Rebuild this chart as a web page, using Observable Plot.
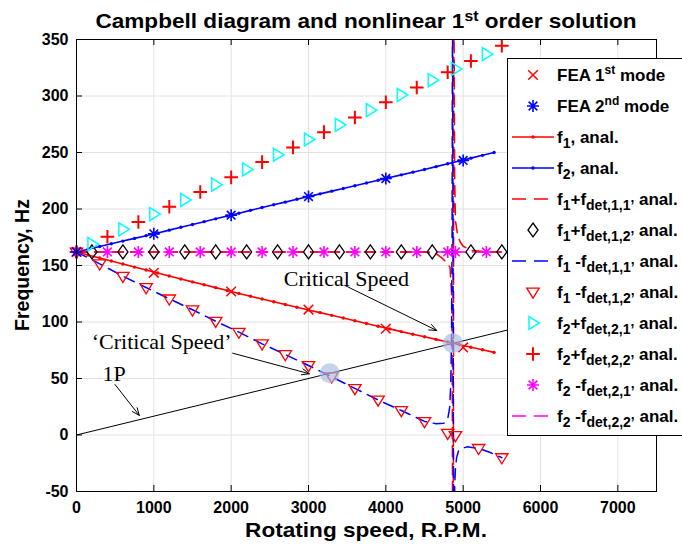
<!DOCTYPE html>
<html><head><meta charset="utf-8">
<script src="https://cdn.jsdelivr.net/npm/d3@7"></script>
<script src="https://cdn.jsdelivr.net/npm/@observablehq/plot@0.6"></script>
<style>
html,body{margin:0;padding:0;background:#fff;}
#wrap{position:relative;width:682px;height:544px;overflow:hidden;background:#fff;}
#wrap svg{position:absolute;left:0;top:0;}
</style></head><body><div id="wrap"></div>
<script>
// ---------- data ----------
const xTicks = [0,1000,2000,3000,4000,5000,6000,7000];
const yTicks = [-50,0,50,100,150,200,250,300,350];

const feaRpm = [0,1000,2000,3000,4000,5000];
const fea1 = [162,143.5,127,111,94,77.5];
const fea2 = [162,178,194.5,211,227,243];

const anaRpm = [0,150,300,450,600,750,900,1050,1200,1350,1500,1650,1800,1950,2100,2250,2400,2550,2700,2850,3000,3150,3300,3450,3600,3750,3900,4050,4200,4350,4500,4650,4800,4950,5100,5250,5400];
const f1Ana = [162,159.3,156.6,154,151.3,148.6,146,143.3,140.7,138.1,135.5,132.9,130.4,127.8,125.3,122.8,120.3,117.9,115.5,113.1,110.7,108.3,105.9,103.5,101.1,98.7,96.3,93.9,91.5,89.2,86.9,84.6,82.3,80,77.7,75.4,73.1];
const f2Ana = [162,164.4,166.8,169.2,171.6,174,176.4,178.8,181.3,183.8,186.3,188.8,191.3,193.8,196.3,198.8,201.3,203.7,206.1,208.6,211,213.4,215.8,218.2,220.6,223,225.4,227.8,230.2,232.6,235,237.5,240,242.5,245,247.5,250];

// f1 + f_det,1,1 (red dashed)
const r11Rpm = [0,1500,3000,4500,4650,4720,4780,4830,4850,4858,4864,4868,4880,4890,4900,4925,4960,5000,5100,5300,5500];
const r11F = [162,162,162,162,160.5,157,153,148.5,125,70,-100,-400,400,230,190,178,171,167,163.5,162,162];
// f1 + f_det,1,2 (diamonds)
const d12Rpm = [200,600,1000,1400,1800,2200,2600,3000,3400,3800,4200,4600,5100,5500];
const d12F = [162,162,162,162,162,162,162,162,162,162,162,162,162,162];
// f1 - f_det,1,1 (blue dashed)
const b11Rpm = [0,300,600,900,1200,1500,1800,2100,2400,2700,3000,3300,3600,3900,4200,4500,4650,4750,4800,4825,4840,4850,4857,4862,4885,4890,4900,4915,4940,4975,5050,5200,5350,5500];
const b11F = [162,151.5,140.5,130.5,120.5,110.8,100.7,91,80.7,71.2,61.5,51.5,41.2,31,21.7,12,10,10.5,14,24,45,90,180,400,-400,-45,-30,-20,-14,-12,-10.5,-11.8,-15.5,-20];
// f1 - f_det,1,2 (down triangles)
const t12Rpm = [0,300,600,900,1200,1500,1800,2100,2400,2700,3000,3300,3600,3900,4200,4500,4800,4900,5200,5500];
const t12F = [162,151.5,140.5,130.5,120.5,110.8,100.7,91,80.7,71.2,61.5,51.5,41.2,31,21.7,12,1.6,-0.4,-11.8,-20];
// f2 + f_det,2,1 (cyan right triangles)
const c21Rpm = [200,600,1000,1400,1800,2200,2600,3000,3400,3800,4200,4600,4900,5300];
const c21F = [169,182,195.5,208,221.5,235,248,261.5,274.5,287.5,301,314,324,337];
// f2 + f_det,2,2 (red plus)
const p22Rpm = [0,400,800,1200,1600,2000,2400,2800,3200,3600,4000,4400,4800,5100,5500];
const p22F = [162,175.5,188.5,202,215,228,241.5,254.5,268,281,294.5,307.5,321,331,344.5];
// f2 - f_det,2,1 (magenta stars)
const m21Rpm = [0,400,800,1200,1600,2000,2400,2800,3200,3600,4000,4400,4800,4900,5300];
const m21F = [162,162,162,162,162,162,162,162,162,162,162,162,162,162,162];
// f2 - f_det,2,2 (magenta dashed)
const m22Rpm = [0,5500];
const m22F = [162,162];
// 1P excitation line
const onePRpm = [0,7500];
const onePF = [0,125];
// critical speed markers
const critRpm = [3275,4866];
const critF = [54.6,81.3];
// annotations
const noteText = ["Critical Speed","\u2018Critical Speed\u2019","1P"];
const noteRpm = [3491,1102,486];
const noteF = [138.5,81.9,53.8];
const arrowFromRpm = [3472,2020,498];
const arrowFromF = [132.3,72.4,44.7];
const arrowToRpm = [4658,3010,812];
const arrowToF = [92.5,54.2,17.3];

const titleText = ["Campbell diagram and nonlinear 1","st"," order solution"];
const xLabel = "Rotating speed, R.P.M.";
const yLabel = "Frequency, Hz";
const legendLabels = [
  [["FEA 1",0],["st",2],[" mode",0]],
  [["FEA 2",0],["nd",2],[" mode",0]],
  [["f",0],["1",1],[", anal.",0]],
  [["f",0],["2",1],[", anal.",0]],
  [["f",0],["1",1],["+f",0],["det,1,1\u2019",1],[" anal.",0]],
  [["f",0],["1",1],["+f",0],["det,1,2\u2019",1],[" anal.",0]],
  [["f",0],["1",1],[" -f",0],["det,1,1\u2019",1],[" anal.",0]],
  [["f",0],["1",1],[" -f",0],["det,1,2\u2019",1],[" anal.",0]],
  [["f",0],["2",1],["+f",0],["det,2,1\u2019",1],[" anal.",0]],
  [["f",0],["2",1],["+f",0],["det,2,2\u2019",1],[" anal.",0]],
  [["f",0],["2",1],[" -f",0],["det,2,1\u2019",1],[" anal.",0]],
  [["f",0],["2",1],[" -f",0],["det,2,2\u2019",1],[" anal.",0]]
];

// ---------- helpers ----------
const zip = (xs, ys) => xs.map((x, i) => ({x, y: ys[i]}));
const R = s => Math.sqrt(s / Math.PI);
const sym = {
  times: {draw(c, s){const r=R(s); c.moveTo(-r,-r); c.lineTo(r,r); c.moveTo(-r,r); c.lineTo(r,-r);}},
  plus: {draw(c, s){const r=R(s); c.moveTo(-r,0); c.lineTo(r,0); c.moveTo(0,-r); c.lineTo(0,r);}},
  star: {draw(c, s){const r=R(s), q=r*0.72; c.moveTo(-r,0); c.lineTo(r,0); c.moveTo(0,-r); c.lineTo(0,r);
    c.moveTo(-q,-q); c.lineTo(q,q); c.moveTo(-q,q); c.lineTo(q,-q);}},
  triDown: {draw(c, s){const r=R(s); c.moveTo(-r,-0.62*r); c.lineTo(r,-0.62*r); c.lineTo(0,r); c.closePath();}},
  triRight: {draw(c, s){const r=R(s); c.moveTo(-0.62*r,-r); c.lineTo(-0.62*r,r); c.lineTo(r,0); c.closePath();}},
  diamond: {draw(c, s){const r=R(s); c.moveTo(0,-r); c.lineTo(0.72*r,0); c.lineTo(0,r); c.lineTo(-0.72*r,0); c.closePath();}}
};
const DASH = "11,7";
const W = 682, H = 544, mT = 39, mR = 26, mB = 53, mL = 76;
const innerH = H - mT - mB, innerW = W - mL - mR;

const chart = Plot.plot({
  width: W, height: H,
  marginTop: mT, marginRight: mR, marginBottom: mB, marginLeft: mL,
  style: {fontFamily: "'Liberation Sans', Arial, sans-serif", background: "white", overflow: "visible"},
  x: {domain: [0, 7500]},
  y: {domain: [-50, 350]},
  marks: [
    Plot.gridX(xTicks, {stroke: "#e2e2e2", strokeOpacity: 1}),
    Plot.gridY(yTicks, {stroke: "#e2e2e2", strokeOpacity: 1}),
    Plot.line(zip(onePRpm, onePF), {x: "x", y: "y", stroke: "black", strokeWidth: 1, clip: true}),
    Plot.line(zip(m22Rpm, m22F), {x: "x", y: "y", stroke: "#ff00ff", strokeWidth: 1.5, strokeDasharray: DASH, clip: true}),
    Plot.line(zip(r11Rpm, r11F), {x: "x", y: "y", stroke: "#ff0000", strokeWidth: 1.5, strokeDasharray: DASH, clip: true}),
    Plot.line(zip(b11Rpm, b11F), {x: "x", y: "y", stroke: "#0000ff", strokeWidth: 1.5, strokeDasharray: DASH, clip: true}),
    Plot.line(zip(anaRpm, f1Ana), {x: "x", y: "y", stroke: "#ff0000", strokeWidth: 1.6}),
    Plot.dot(zip(anaRpm, f1Ana), {x: "x", y: "y", r: 1.7, fill: "#ff0000"}),
    Plot.line(zip(anaRpm, f2Ana), {x: "x", y: "y", stroke: "#0000ff", strokeWidth: 1.6}),
    Plot.dot(zip(anaRpm, f2Ana), {x: "x", y: "y", r: 1.7, fill: "#0000ff"}),
    Plot.dot(zip(d12Rpm, d12F), {x: "x", y: "y", symbol: sym.diamond, r: 7, fill: "none", stroke: "black", strokeWidth: 1.3}),
    Plot.dot(zip(m21Rpm, m21F), {x: "x", y: "y", symbol: sym.star, r: 6, fill: "none", stroke: "#ff00ff", strokeWidth: 1.6}),
    Plot.dot(zip(t12Rpm, t12F), {x: "x", y: "y", symbol: sym.triDown, r: 6.2, fill: "none", stroke: "#ff0000", strokeWidth: 1.3}),
    Plot.dot(zip(c21Rpm, c21F), {x: "x", y: "y", symbol: sym.triRight, r: 6.5, fill: "none", stroke: "#00ffff", strokeWidth: 1.5}),
    Plot.dot(zip(p22Rpm, p22F), {x: "x", y: "y", symbol: sym.plus, r: 6.8, fill: "none", stroke: "#ff0000", strokeWidth: 2}),
    Plot.dot(zip(feaRpm, fea1), {x: "x", y: "y", symbol: sym.times, r: 4.8, fill: "none", stroke: "#ff0000", strokeWidth: 1.5}),
    Plot.dot(zip(feaRpm, fea2), {x: "x", y: "y", symbol: sym.star, r: 6, fill: "none", stroke: "#0000ff", strokeWidth: 1.6}),
    Plot.dot(zip(critRpm, critF), {x: "x", y: "y", r: 10, fill: "#a3bde0", fillOpacity: 0.65, stroke: "none"}),
    Plot.arrow(arrowFromRpm.map((r, i) => ({x1: r, y1: arrowFromF[i], x2: arrowToRpm[i], y2: arrowToF[i]})),
      {x1: "x1", y1: "y1", x2: "x2", y2: "y2", stroke: "black", strokeWidth: 1, headLength: 12, headAngle: 45}),
    Plot.text(noteText.map((t, i) => ({t, x: noteRpm[i], y: noteF[i]})),
      {x: "x", y: "y", text: "t", fontFamily: "'Liberation Serif', 'Times New Roman', serif", fontSize: 22, fill: "black"}),
    Plot.tickX(xTicks, {x: d => d, insetTop: innerH - 6, stroke: "black", strokeWidth: 1}),
    Plot.tickX(xTicks, {x: d => d, insetBottom: innerH - 6, stroke: "black", strokeWidth: 1}),
    Plot.tickY(yTicks, {y: d => d, insetRight: innerW - 6, stroke: "black", strokeWidth: 1}),
    Plot.tickY(yTicks, {y: d => d, insetLeft: innerW - 6, stroke: "black", strokeWidth: 1}),
    Plot.frame({stroke: "black", strokeWidth: 1}),
    Plot.axisX(xTicks, {tickSize: 0, tickPadding: 10, label: null, tickFormat: d => String(d), fontSize: 16, fontWeight: "bold", fill: "black"}),
    Plot.axisY(yTicks, {tickSize: 0, tickPadding: 8, label: null, tickFormat: d => String(d), fontSize: 16, fontWeight: "bold", fill: "black"})
  ]
});
const wrap = document.getElementById("wrap");
wrap.appendChild(chart);

// ---------- overlay: title, axis labels, legend ----------
const NS = "http://www.w3.org/2000/svg";
function el(tag, attrs, parent) {
  const e = document.createElementNS(NS, tag);
  for (const k in attrs) e.setAttribute(k, attrs[k]);
  if (parent) parent.appendChild(e);
  return e;
}
const ov = el("svg", {width: W, height: H, viewBox: `0 0 ${W} ${H}`});
ov.style.fontFamily = "'Liberation Sans', Arial, sans-serif";
wrap.appendChild(ov);

function richText(parent, segs, attrs, size, subSize, supSize) {
  const t = el("text", Object.assign({"font-size": size, "font-weight": "bold", fill: "black"}, attrs), parent);
  let shift = 0;
  for (const [s, k] of segs) {
    const target = k === 1 ? 5 : k === 2 ? -7 : 0;
    const ts = el("tspan", {dy: target - shift}, t);
    if (k === 1) ts.setAttribute("font-size", subSize);
    if (k === 2) ts.setAttribute("font-size", supSize);
    ts.textContent = s;
    shift = target;
  }
  return t;
}
// title
richText(ov, [[titleText[0],0],[titleText[1],2],[titleText[2],0]], {x: 0, y: 0, "text-anchor": "middle", transform: "translate(366,28) scale(1.13,1)"}, 20, 14, 14);
// axis labels
const xl = el("text", {x: 0, y: 0, transform: "translate(366,537) scale(1.13,1)", "text-anchor": "middle", "font-size": 20, "font-weight": "bold"}, ov);
xl.textContent = xLabel;
const yl = el("text", {transform: "translate(29,265) rotate(-90)", "text-anchor": "middle", "font-size": 19.5, "font-weight": "bold"}, ov);
yl.textContent = yLabel;

// legend
const lg = el("g", {}, ov);
el("rect", {x: 507.5, y: 58.5, width: 200, height: 377, fill: "white", stroke: "black", "stroke-width": 1}, lg);
const legendSpec = [
  {sym: "times", color: "#ff0000", r: 4.8, sw: 1.5},
  {sym: "star", color: "#0000ff", r: 6, sw: 1.6},
  {line: "solid", color: "#ff0000"},
  {line: "solid", color: "#0000ff"},
  {line: "dash", color: "#ff0000"},
  {sym: "diamond", color: "black", r: 7, sw: 1.3},
  {line: "dash", color: "#0000ff"},
  {sym: "triDown", color: "#ff0000", r: 6.2, sw: 1.3},
  {sym: "triRight", color: "#00ffff", r: 6.5, sw: 1.5},
  {sym: "plus", color: "#ff0000", r: 6.8, sw: 2},
  {sym: "star", color: "#ff00ff", r: 6, sw: 1.6},
  {line: "dash", color: "#ff00ff"}
];
legendSpec.forEach((s, i) => {
  const cy = 75 + 31 * i;
  if (s.line) {
    const a = {x1: 512, x2: 554, y1: cy, y2: cy, stroke: s.color, "stroke-width": 1.6};
    if (s.line === "dash") a["stroke-dasharray"] = "14,8";
    el("line", a, lg);
    if (s.line === "solid") el("circle", {cx: 533, cy, r: 1.7, fill: s.color}, lg);
  } else {
    const p = d3.path();
    sym[s.sym].draw(p, s.r * s.r * Math.PI);
    el("path", {d: p.toString(), transform: `translate(533,${cy})`, fill: "none", stroke: s.color, "stroke-width": s.sw}, lg);
  }
  richText(lg, legendLabels[i], {x: 557, y: cy + 6}, 17, 14, 12);
});
</script></body></html>
